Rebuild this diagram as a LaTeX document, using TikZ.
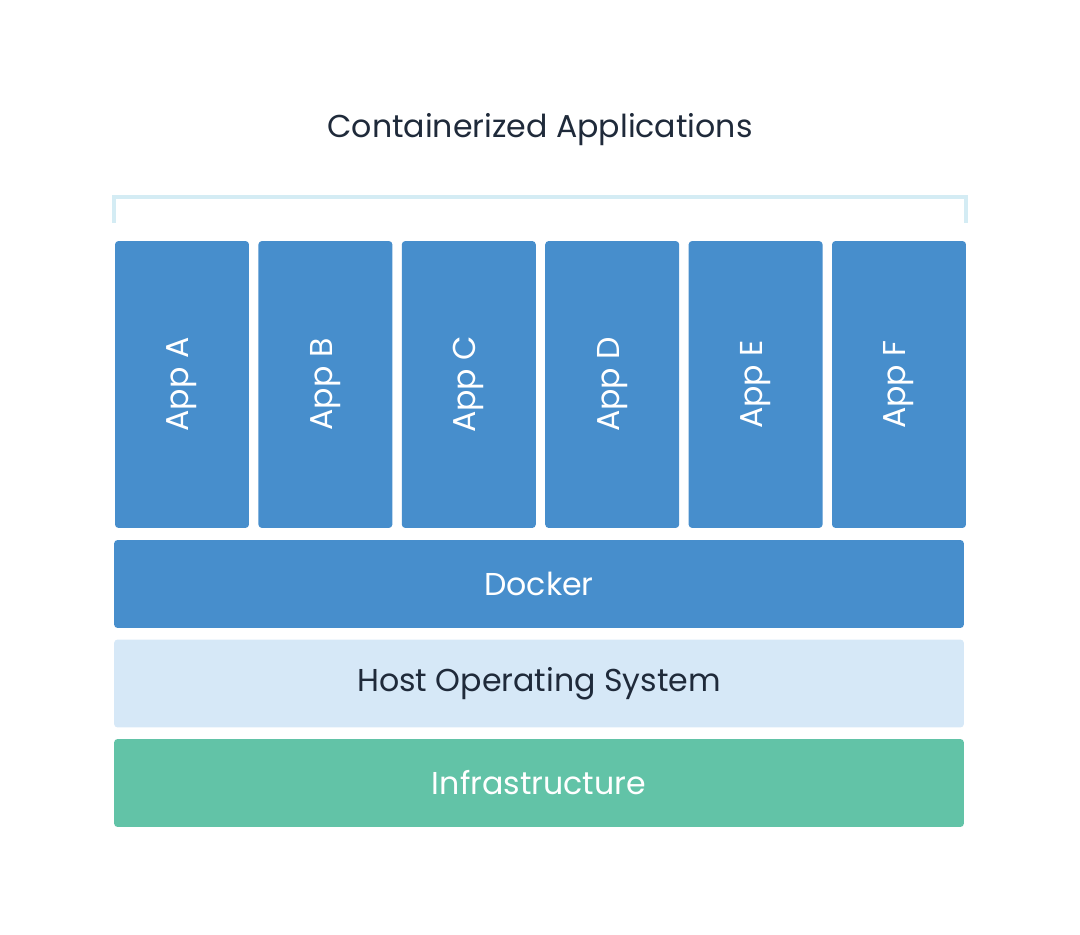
\documentclass[tikz,border=0pt]{standalone}
\usepackage{fontspec}
\setmainfont{Poppins}
\definecolor{appblue}{HTML}{478ECC}
\definecolor{hostblue}{HTML}{D6E8F7}
\definecolor{infragreen}{HTML}{62C3A7}
\definecolor{bracketblue}{HTML}{D4ECF4}
\definecolor{darktext}{HTML}{1F2A3A}
\tikzset{
    layer/.style={rounded corners=2pt, inner sep=0pt, minimum width=17cm, minimum height=1.76cm, font=\fontsize{18}{20}\selectfont},
    appbox/.style={layer, fill=appblue, text=white, minimum width=5.74cm, minimum height=2.68cm}
}
\begin{document}
\begin{tikzpicture}[x=0.02cm, y=-0.02cm]
            \useasboundingbox (0,0) rectangle (1080,935);
            \node[text=darktext, font=\fontsize{18}{20}\selectfont] (title) at (540,130) {Containerized Applications};
            \coordinate (bl) at (114,223);
            \coordinate (br) at (966,223);
            \draw[bracketblue, line width=2.5pt] (bl) -- ++(0,-26) -| (br);
            \foreach \name [count=\i from 0] in {A,B,C,D,E,F}
                \node[appbox, rotate=90] (app\name) at (182+143.4*\i,384.5) {App \name};
            \node[layer, fill=appblue, text=white] (docker) at (539,584) {Docker};
            \node[layer, fill=hostblue, text=darktext] (host) at (539,683.5) {Host Operating System};
            \node[layer, fill=infragreen, text=white] (infra) at (539,783) {Infrastructure};
        \end{tikzpicture}
\end{document}
